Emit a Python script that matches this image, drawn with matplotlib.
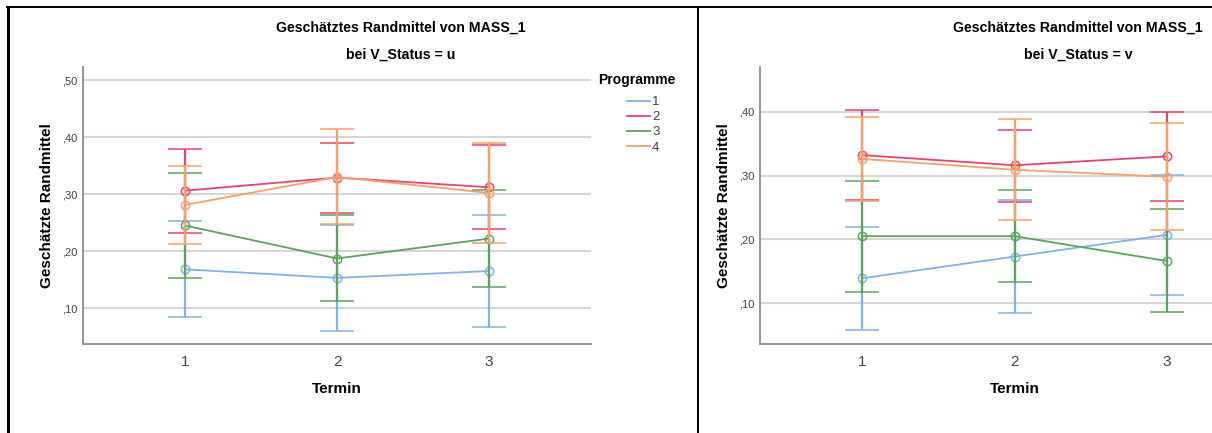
import matplotlib
matplotlib.use('Agg')
import matplotlib.pyplot as plt
from matplotlib.lines import Line2D
import numpy as np

plt.rcParams['font.family'] = ['Liberation Sans', 'DejaVu Sans']

# Data
termin = [1, 2, 3]
programme = ['1', '2', '3', '4']
colors = ['#7fb2ea', '#e8436a', '#5aa55a', '#f7a06a']

# V_Status = u
u_mean = [[0.168, 0.153, 0.165],
          [0.306, 0.329, 0.312],
          [0.245, 0.187, 0.222],
          [0.281, 0.330, 0.302]]
u_low = [[0.084, 0.060, 0.067],
         [0.232, 0.267, 0.238],
         [0.153, 0.112, 0.137],
         [0.212, 0.247, 0.214]]
u_high = [[0.253, 0.246, 0.264],
          [0.379, 0.389, 0.387],
          [0.337, 0.263, 0.307],
          [0.350, 0.415, 0.390]]

# V_Status = v
v_mean = [[0.139, 0.173, 0.207],
          [0.332, 0.316, 0.330],
          [0.205, 0.205, 0.166],
          [0.326, 0.309, 0.298]]
v_low = [[0.058, 0.085, 0.113],
         [0.262, 0.258, 0.260],
         [0.117, 0.133, 0.086],
         [0.260, 0.230, 0.214]]
v_high = [[0.219, 0.262, 0.301],
          [0.402, 0.372, 0.400],
          [0.292, 0.277, 0.247],
          [0.392, 0.389, 0.382]]

u_ticks = [0.1, 0.2, 0.3, 0.4, 0.5]
u_ticklabels = [',10', ',20', ',30', ',40', ',50']
v_ticks = [0.1, 0.2, 0.3, 0.4]
v_ticklabels = [',10', ',20', ',30', ',40']

W, H = 1212, 433
fig = plt.figure(figsize=(W / 100, H / 100), dpi=100)


def px(x0, y0, x1, y1):
    # pixel box -> figure fraction [left, bottom, width, height]
    return [x0 / W, 1 - y1 / H, (x1 - x0) / W, (y1 - y0) / H]


def panel(ax, mean, low, high, ticks, ticklabels, ylim):
    x = np.array(termin)
    for i in range(len(programme)):
        m = np.array(mean[i])
        lo = m - np.array(low[i])
        hi = np.array(high[i]) - m
        ax.errorbar(x, m, yerr=[lo, hi], color=colors[i], lw=1.3,
                    elinewidth=1.6, capsize=12.5, capthick=1.8,
                    marker='o', markersize=6, mfc='none', mew=1.1,
                    zorder=3 + i)
    ax.set_xlim(0.33, 3.67)
    ax.set_ylim(*ylim)
    ax.set_xticks(termin)
    ax.set_xticklabels([str(t) for t in termin], fontsize=11, color='#444444')
    ax.set_yticks(ticks)
    ax.set_yticklabels(ticklabels, fontsize=8, color='#444444')
    ax.tick_params(length=0, pad=4)
    ax.tick_params(axis='x', pad=8)
    ax.grid(axis='y', color='#d6d6d6', lw=1.5)
    ax.set_axisbelow(True)
    for s in ['top', 'right']:
        ax.spines[s].set_visible(False)
    for s in ['left', 'bottom']:
        ax.spines[s].set_color('#999999')
        ax.spines[s].set_linewidth(1.5)
    ax.set_xlabel('Termin', fontsize=11, fontweight='bold', labelpad=9)
    ax.set_ylabel('Geschätzte Randmittel', fontsize=11, fontweight='bold',
                  labelpad=6)


ax1 = fig.add_axes(px(83, 67, 591, 344))
panel(ax1, u_mean, u_low, u_high, u_ticks, u_ticklabels, (0.037, 0.523))
ax2 = fig.add_axes(px(760, 67, 1269, 344))
panel(ax2, v_mean, v_low, v_high, v_ticks, v_ticklabels, (0.036, 0.470))

# titles
fig.text(401 / W, 1 - 28 / H, 'Geschätztes Randmittel von MASS_1', ha='center',
         va='center', fontsize=10.2, fontweight='bold')
fig.text(401 / W, 1 - 55 / H, 'bei V_Status = u', ha='center', va='center',
         fontsize=10.2, fontweight='bold')
fig.text(1078 / W, 1 - 28 / H, 'Geschätztes Randmittel von MASS_1', ha='center',
         va='center', fontsize=10.2, fontweight='bold')
fig.text(1078 / W, 1 - 55 / H, 'bei V_Status = v', ha='center', va='center',
         fontsize=10.2, fontweight='bold')

# legend
fig.text(598 / W, 1 - 80 / H, 'Programme', ha='left', va='center',
         fontsize=10, fontweight='bold')
handles = [Line2D([], [], color=c, lw=1.3) for c in colors]
leg = fig.legend(handles, programme, loc='upper left',
                 bbox_to_anchor=(619 / W, 1 - 88 / H), frameon=False,
                 fontsize=9.5, handlelength=1.75, handletextpad=0.15,
                 labelspacing=0.22, borderpad=0.1)
for t in leg.get_texts():
    t.set_color('#444444')

# table cell borders of the screenshot
for xs, ys, w in [((8, 8), (7, 433), 3), ((7, W), (7, 7), 2),
                  ((698, 698), (7, 433), 2)]:
    fig.add_artist(Line2D([x / W for x in xs], [1 - y / H for y in ys],
                          color='black', lw=w * 0.72,
                          transform=fig.transFigure))

fig.savefig('out.png', dpi=100)
